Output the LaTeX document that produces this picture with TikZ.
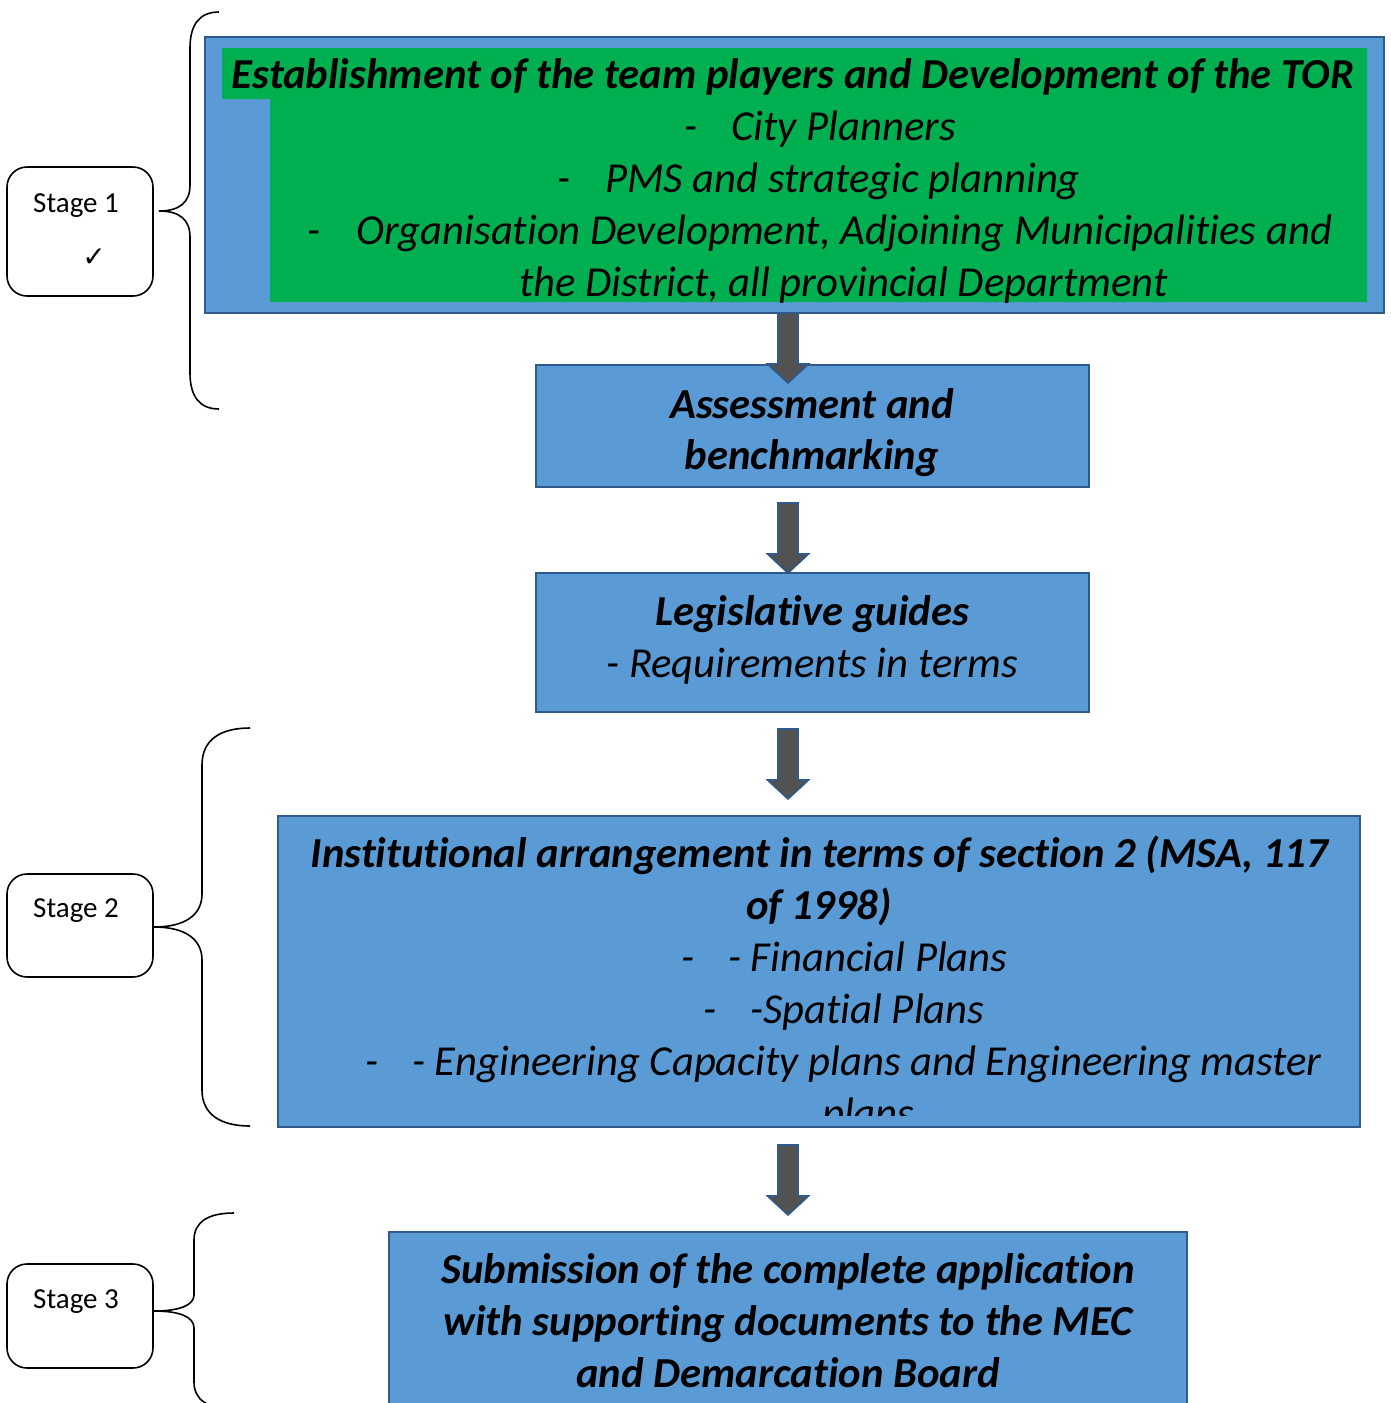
\documentclass[tikz,border=0pt]{standalone}
\usepackage{fontspec}
\setmainfont{Carlito}[Ligatures={NoCommon}]
\newfontfamily\djv{DejaVu Sans}
\usetikzlibrary{calc}
\definecolor{boxblue}{HTML}{5B9BD5}
\definecolor{edgeblue}{HTML}{2F5A8A}
\definecolor{grn}{HTML}{00B050}
\definecolor{arrgray}{HTML}{525252}
\tikzset{
  bluebox/.style={draw=edgeblue, line width=2.2pt, fill=boxblue, inner sep=0pt, outer sep=0pt},
  stagebox/.style={draw=black, line width=1.6pt, fill=white, rounded corners=20pt, inner sep=0pt, outer sep=0pt},
  bi/.style={font=\fontsize{42.7}{52}\selectfont\bfseries\itshape, anchor=base, inner sep=0pt},
  itw/.style={font=\fontsize{42.7}{52}\selectfont\itshape, anchor=base west, inner sep=0pt},
  itc/.style={font=\fontsize{42.7}{52}\selectfont\itshape, anchor=base, inner sep=0pt},
  stagetxt/.style={font=\fontsize{29}{35}\selectfont, anchor=base west, inner sep=0pt},
  barrow/.style={draw=edgeblue, line width=1.6pt, fill=arrgray, line join=miter},
  bracel/.style={draw=black, line width=1.6pt}
}
\newcommand\blockarrow[1]{%
  \draw[barrow] ($(#1)+(-10,0)$) -- ($(#1)+(10,0)$) -- ($(#1)+(10,51)$) -- ($(#1)+(20.5,51)$)
    -- ($(#1)+(0,70)$) -- ($(#1)+(-20.5,51)$) -- ($(#1)+(-10,51)$) -- cycle;}
\begin{document}
\begin{tikzpicture}[x=1pt,y=-1pt]
\path[use as bounding box] (0,0) rectangle (1390,1403);
\clip (0,0) rectangle (1390,1403);

% main boxes
\node[bluebox, minimum width=1179pt, minimum height=276pt] (b1) at (794.5,175) {};
\fill[grn] (222,48) -- (1367,48) -- (1367,302) -- (270,302) -- (270,99) -- (222,99) -- cycle;
\node[bluebox, minimum width=553pt, minimum height=122pt] (b2) at (812.5,426) {};
\node[bluebox, minimum width=553pt, minimum height=139pt] (b3) at (812.5,642.5) {};
\node[bluebox, minimum width=1082pt, minimum height=311pt] (b4) at (819,971.5) {};
\node[bluebox, minimum width=798pt, minimum height=190pt] (b5) at (788,1327) {};

% box 1 text
\node[bi] (t1a) at (793,88) {Establishment of the team players and Development of the TOR};
\node[itw] (t1b0) at (684,140) {-};
\node[itw] (t1b) at (731,140) {City Planners};
\node[itw] (t1c0) at (557,192) {-};
\node[itw] (t1c) at (605,192) {PMS and strategic planning};
\node[itw] (t1d0) at (307,244) {-};
\node[itw] (t1d) at (356,244) {Organisation Development, Adjoining Municipalities and};
\node[itw] (t1e) at (519,296) {the District, all provincial Department};

% box 2, 3 text
\node[bi] (t2a) at (812,418) {Assessment and};
\node[bi] (t2b) at (812,469) {benchmarking};
\node[bi] (t3a) at (812,625) {Legislative guides};
\node[itc] (t3b) at (812,677) {- Requirements in terms};

% box 4 text
\begin{scope}
\clip (279,817) rectangle (1359,1115);
\node[bi] (t4a) at (819.5,867) {Institutional arrangement in terms of section 2 (MSA, 117};
\node[bi] (t4b) at (819,919) {of 1998)};
\node[itw] (t4c0) at (681,971) {-};
\node[itw] (t4c) at (728,971) {- Financial Plans};
\node[itw] (t4d0) at (703,1023) {-};
\node[itw] (t4d) at (750,1023) {-Spatial Plans};
\node[itw] (t4e0) at (365,1075) {-};
\node[itw] (t4e) at (412,1075) {- Engineering Capacity plans and Engineering master};
\node[itw] (t4f) at (822,1127) {plans};
\end{scope}

% box 5 text
\node[bi] (t5a) at (788,1283) {Submission of the complete application};
\node[bi] (t5b) at (788,1335) {with supporting documents to the MEC};
\node[bi] (t5c) at (788,1387) {and Demarcation Board};

% arrows
\coordinate (ax) at (788,0);
\coordinate (a1) at (b1.south -| ax);
\coordinate (a2) at ($(b2.south -| ax)+(0,16)$);
\coordinate (a3) at ($(b3.south -| ax)+(0,17)$);
\coordinate (a4) at ($(b4.south -| ax)+(0,18)$);
\blockarrow{a1}
\blockarrow{a2}
\blockarrow{a3}
\blockarrow{a4}

% stage boxes
\node[stagebox, minimum width=146pt, minimum height=129pt] (s1) at (80,231.5) {};
\node[stagebox, minimum width=146pt, minimum height=103pt] (s2) at (80,925.5) {};
\node[stagebox, minimum width=146pt, minimum height=104pt] (s3) at (80,1316) {};
\node[stagetxt] (s1t) at (33,212) {Stage 1};
\node[font=\djv\bfseries\fontsize{28}{34}\selectfont, inner sep=0pt] (s1c) at (94,258) {✓};
\node[stagetxt] (s2t) at (33,917) {Stage 2};
\node[stagetxt] (s3t) at (33,1308) {Stage 3};

% braces
\draw[bracel] (219,12) .. controls (200,12) and (190,24) .. (190,48) -- (190,185)
  .. controls (190,202) and (180,211) .. (159,211)
  .. controls (180,211) and (190,220) .. (190,237) -- (190,373)
  .. controls (190,397) and (200,409) .. (219,409);
\draw[bracel] (250,728) .. controls (220,728) and (202,740) .. (202,765) -- (202,894)
  .. controls (202,915) and (185,927) .. (154,927)
  .. controls (185,927) and (202,939) .. (202,960) -- (202,1090)
  .. controls (202,1114) and (220,1126) .. (250,1126);
\draw[bracel] (234,1213) .. controls (208,1213) and (194,1222) .. (194,1240) -- (194,1295)
  .. controls (194,1305) and (180,1311) .. (154,1311)
  .. controls (180,1311) and (194,1317) .. (194,1328) -- (194,1382)
  .. controls (194,1400) and (208,1409) .. (234,1409);
\end{tikzpicture}
\end{document}
